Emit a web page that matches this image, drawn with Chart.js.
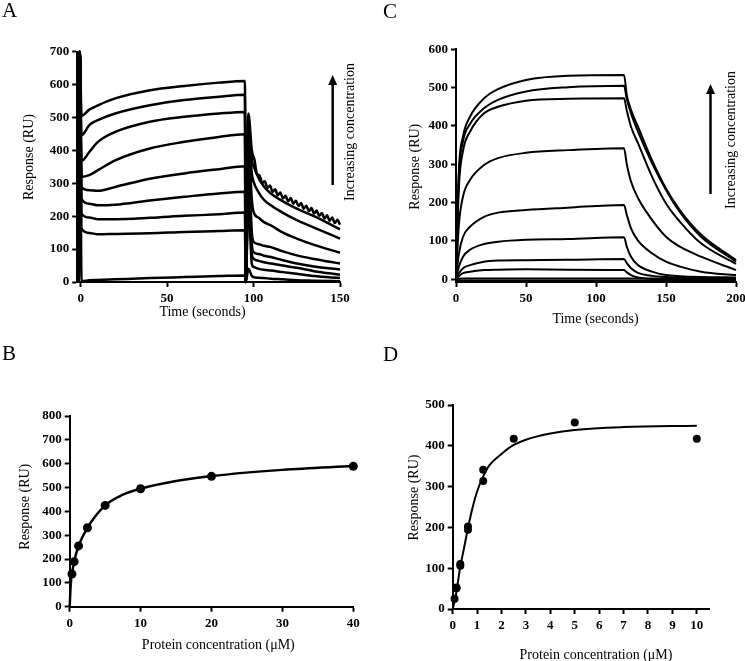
<!DOCTYPE html>
<html>
<head>
<meta charset="utf-8">
<script src="https://cdn.jsdelivr.net/npm/chart.js@4.4.1/dist/chart.umd.min.js"></script>
<style>
  html, body { margin: 0; padding: 0; background: #fff; overflow: hidden; }
  #wrap { position: relative; width: 745px; height: 661px; overflow: hidden; }
  canvas { position: absolute; }
</style>
</head>
<body>
<div id="wrap">
  <canvas id="panelA" width="372" height="330" style="left:0;top:0"></canvas>
  <canvas id="panelC" width="390" height="330" style="left:372px;top:0"></canvas>
  <canvas id="panelB" width="372" height="331" style="left:0;top:330px"></canvas>
  <canvas id="panelD" width="373" height="340" style="left:372px;top:330px"></canvas>
</div>
<script>
// ---- Panel A: sensorgrams, time (s) vs response (RU) ----
const spikeTimesA = [-1.5, -0.5];
const spikeValuesA = [0, 700];
const assocTimesA = [0.5, 5, 10, 20, 40, 60, 80, 95];
const assocA = [
    [505, 524, 537, 558, 583, 596, 606, 611],
    [446, 477, 492, 512, 537, 553, 563, 569],
    [368, 395, 426, 456, 487, 502, 512, 517],
    [320, 325, 340, 370, 406, 426, 441, 449],
    [289, 279, 277, 289, 314, 330, 343, 352],
    [254, 238, 233, 235, 248, 259, 269, 274],
    [208, 196, 191, 191, 195, 201, 206, 211],
    [162, 149, 145, 146, 148, 152, 155, 157],
    [3, 5, 6, 8, 12, 15, 18, 20]
];
const dropTimeA = 95.5;
const peakTimeA = 97;
const peakA = [512, 495, 470, 430, 380, 340, 290, 240, 40];
const dissocTimesA = [99, 100, 103, 106, 110, 117, 125, 135, 150];
const dissocA = [
    [370, 352, 315, 290, 269, 245, 223, 200, 160],
    [330, 305, 272, 250, 233, 210, 188, 165, 132],
    [250, 213, 195, 182, 172, 150, 132, 113, 89],
    [150, 122, 115, 110, 106, 93, 81, 70, 56],
    [115, 91, 85, 80, 76, 66, 56, 47, 38],
    [85, 71, 64, 60, 56, 50, 43, 33, 22],
    [55, 46, 40, 37, 35, 30, 25, 18, 12],
    [18, 15, 13, 12, 10, 8, 5, 4, 2]
];
// top trace wobbles during dissociation
const zigTimesA = [99, 100.5, 102, 103.5, 105, 106.5, 108, 109.5, 111, 112.5, 114, 115.5, 117, 118.5,
    120, 121.5, 123, 124.5, 126, 127.5, 129, 130.5, 132, 133.5, 135, 136.5, 138, 139.5, 141, 142.5,
    144, 145.5, 147, 148.5, 150];
const zigValuesA = [400, 372, 328, 324, 301, 306, 286, 293, 274, 282, 263, 272, 254, 262,
    245, 255, 238, 247, 231, 240, 223, 232, 215, 225, 208, 217, 201, 210, 193, 203,
    186, 196, 179, 189, 174];
const xTicksA = [0, 50, 100, 150];
const yTicksA = [0, 100, 200, 300, 400, 500, 600, 700];

// ---- Panel C: sensorgrams ----
const assocTimesC = [0, 2, 5, 10, 20, 30, 50, 80, 120];
const assocC = [
    [0, 280, 372, 424, 472, 496, 520, 531, 533],
    [0, 265, 360, 405, 446, 468, 490, 501, 505],
    [0, 235, 335, 385, 433, 450, 466, 471, 472],
    [0, 140, 216, 259, 298, 316, 330, 337, 342],
    [0, 65, 111, 137, 163, 174, 181, 187, 194],
    [0, 32, 59, 77, 92, 98, 103, 105, 110],
    [0, 15, 29, 37, 46, 49, 50, 51, 53],
    [0, 8, 16, 20, 24, 25, 26, 25, 24],
    [0, 1, 2, 2, 2, 2, 2, 2, 2],
    [-3, -3, -3, -3, -3, -3, -3, -3, -3]
];
const dissocTimesC = [122, 125, 130, 140, 150, 160, 175, 200];
const dissocC = [
    [480, 442, 398, 311, 237, 180, 117, 50],
    [470, 433, 385, 303, 233, 175, 111, 46],
    [440, 398, 355, 268, 198, 150, 94, 40],
    [300, 255, 212, 155, 111, 85, 59, 24],
    [168, 133, 101, 68, 46, 33, 20, 11],
    [85, 59, 37, 20, 11, 8, 6, 5],
    [42, 29, 17, 9, 6, 4, 3, 3],
    [18, 11, 5, 0, -1, -2, -2, -2],
    [2, 2, 2, 2, 2, 2, 2, 2],
    [-3, -3, -3, -3, -3, -3, -3, -3]
];
const xTicksC = [0, 50, 100, 150, 200];
const yTicksC = [0, 100, 200, 300, 400, 500, 600];

// ---- Panel B: steady-state binding ----
const concB = [0.3125, 0.625, 1.25, 2.5, 5, 10, 20, 40];
const respB = [137, 189, 255, 331, 425, 495, 547, 589];
const fitXB = [0, 0.1, 0.2, 0.3125, 0.625, 1.25, 2.5, 5, 7.5, 10, 15, 20, 30, 40];
const fitYB = [0, 70, 112, 137, 189, 255, 331, 425, 470, 495, 527, 548, 574, 590];
const xTicksB = [0, 10, 20, 30, 40];
const yTicksB = [0, 100, 200, 300, 400, 500, 600, 700, 800];

// ---- Panel D: steady-state binding ----
const concD = [0.078, 0.156, 0.156, 0.3125, 0.3125, 0.625, 0.625, 1.25, 1.25, 2.5, 5, 10];
const respD = [25, 51, 53, 106, 110, 194, 202, 314, 341, 417, 457, 417];
const fitXD = [0, 0.1, 0.2, 0.3, 0.45, 0.625, 0.8, 1, 1.25, 1.5, 2, 2.5, 3, 4, 5, 7, 10];
const fitYD = [0, 25, 60, 100, 145, 198, 245, 288, 325, 352, 380, 402, 415, 430, 439, 446, 449];
const xTicksD = [0, 1, 2, 3, 4, 5, 6, 7, 8, 9, 10];
const yTicksD = [0, 100, 200, 300, 400, 500];

Chart.defaults.font.family = "'Liberation Serif', 'Times New Roman', serif";
Chart.defaults.color = '#000';

// letters, axis titles, rotated note and arrow
const decorPlugin = {
    id: 'decor',
    afterDraw(chart, args, o) {
        const ctx = chart.ctx;
        const rotated = (txt, at) => {
            ctx.save();
            ctx.translate(at[0], at[1]);
            ctx.rotate(-Math.PI / 2);
            ctx.fillText(txt, 0, 0);
            ctx.restore();
        };
        ctx.save();
        ctx.fillStyle = '#000';
        ctx.font = "21px 'Liberation Serif'";
        ctx.textAlign = 'left';
        ctx.textBaseline = 'alphabetic';
        ctx.fillText(o.letter, o.letterAt[0], o.letterAt[1]);

        ctx.font = "14px 'Liberation Serif'";
        ctx.textAlign = 'center';
        ctx.textBaseline = 'middle';
        ctx.fillText(o.xTitle, o.xTitleAt[0], o.xTitleAt[1]);
        rotated(o.yTitle, o.yTitleAt);

        if (o.note) {
            rotated(o.note, o.noteAt);
            const [ax, tail, tip] = o.arrow;
            ctx.strokeStyle = '#000';
            ctx.lineWidth = 2.5;
            ctx.beginPath();
            ctx.moveTo(ax, tail);
            ctx.lineTo(ax, tip + 8);
            ctx.stroke();
            ctx.beginPath();
            ctx.moveTo(ax, tip);
            ctx.lineTo(ax - 4.5, tip + 10);
            ctx.lineTo(ax + 4.5, tip + 10);
            ctx.closePath();
            ctx.fill();
        }
        ctx.restore();
    }
};
Chart.register(decorPlugin);

function axis(min, max, ticks, size, isX) {
    return {
        type: 'linear',
        min: min,
        max: max,
        afterBuildTicks: s => { s.ticks = ticks.map(v => ({ value: v })); },
        afterFit: s => { if (isX) s.height = size; else s.width = size; },
        border: { display: true, color: '#000', width: 2 },
        grid: { drawOnChartArea: false, drawTicks: true, tickLength: 5, tickWidth: 2, color: '#000', tickColor: '#000' },
        ticks: { color: '#000', padding: isX ? 4 : 3, autoSkip: false, maxRotation: 0, font: { size: 13, weight: 'bold' } }
    };
}

function curve(points, width) {
    return {
        data: points,
        borderColor: '#000',
        borderWidth: width,
        pointRadius: 0,
        fill: false,
        cubicInterpolationMode: 'monotone',
        clip: 6
    };
}

function dots(xs, ys, r) {
    return {
        data: xs.map((x, i) => ({ x: x, y: ys[i] })),
        showLine: false,
        pointRadius: r,
        pointBackgroundColor: '#000',
        pointBorderColor: '#000',
        pointBorderWidth: 0,
        clip: 8
    };
}

function makePanel(id, datasets, xAxis, yAxis, padding, decor) {
    return new Chart(document.getElementById(id), {
        type: 'line',
        data: { datasets: datasets },
        options: {
            responsive: false,
            animation: false,
            devicePixelRatio: 1,
            layout: { padding: padding },
            plugins: { legend: { display: false }, tooltip: { enabled: false }, decor: decor },
            scales: { x: xAxis, y: yAxis }
        }
    });
}

function traceA(i) {
    const pts = [];
    spikeTimesA.forEach((t, k) => pts.push({ x: t, y: spikeValuesA[k] }));
    assocTimesA.forEach((t, k) => pts.push({ x: t, y: assocA[i][k] }));
    pts.push({ x: dropTimeA, y: 0 });
    pts.push({ x: peakTimeA, y: peakA[i] });
    const tt = i === 0 ? zigTimesA : dissocTimesA;
    const vv = i === 0 ? zigValuesA : dissocA[i - 1];
    tt.forEach((t, k) => pts.push({ x: t, y: vv[k] }));
    return pts;
}

function traceC(i) {
    const pts = assocTimesC.map((t, k) => ({ x: t, y: assocC[i][k] }));
    dissocTimesC.forEach((t, k) => pts.push({ x: t, y: dissocC[i][k] }));
    return pts;
}

window.onload = function() {
    makePanel('panelA',
        assocA.map((_, i) => curve(traceA(i), 2.5)),
        axis(-2, 150, xTicksA, 43, true),
        axis(0, 700, yTicksA, 67.2, false),
        { left: 10, right: 32, top: 51.7, bottom: 5 },
        { letter: 'A', letterAt: [2, 17], xTitle: 'Time (seconds)', xTitleAt: [202.5, 312],
          yTitle: 'Response (RU)', yTitleAt: [29.5, 157],
          note: 'Increasing concentration', noteAt: [350, 132], arrow: [332.7, 185, 75] });

    makePanel('panelC',
        assocC.map((_, i) => curve(traceC(i), 2)),
        axis(0, 200, xTicksC, 43, true),
        axis(-7, 600, yTicksC, 74, false),
        { left: 10, right: 26, top: 49.3, bottom: 5 },
        { letter: 'C', letterAt: [11, 17.5], xTitle: 'Time (seconds)', xTitleAt: [223.5, 319],
          yTitle: 'Response (RU)', yTitleAt: [43, 166.7],
          note: 'Increasing concentration', noteAt: [359.7, 140], arrow: [338.5, 194, 84] });

    makePanel('panelB',
        [curve(fitXB.map((x, i) => ({ x: x, y: fitYB[i] })), 2.5), dots(concB, respB, 4.5)],
        axis(0, 40, xTicksB, 49.3, true),
        axis(0, 800, yTicksB, 64.7, false),
        { left: 5, right: 18.7, top: 86, bottom: 5 },
        { letter: 'B', letterAt: [2, 30], xTitle: 'Protein concentration (\u03bcM)', xTitleAt: [218.3, 315],
          yTitle: 'Response (RU)', yTitleAt: [25.5, 176.7] });

    makePanel('panelD',
        [curve(fitXD.map((x, i) => ({ x: x, y: fitYD[i] })), 2), dots(concD, respD, 4)],
        axis(0, 10.5, xTicksD, 56, true),
        axis(0, 500, yTicksD, 70.7, false),
        { left: 10, right: 36, top: 75, bottom: 5 },
        { letter: 'D', letterAt: [11, 31], xTitle: 'Protein concentration (\u03bcM)', xTitleAt: [224, 325.5],
          yTitle: 'Response (RU)', yTitleAt: [42.5, 167.5] });
};
</script>
</body>
</html>
